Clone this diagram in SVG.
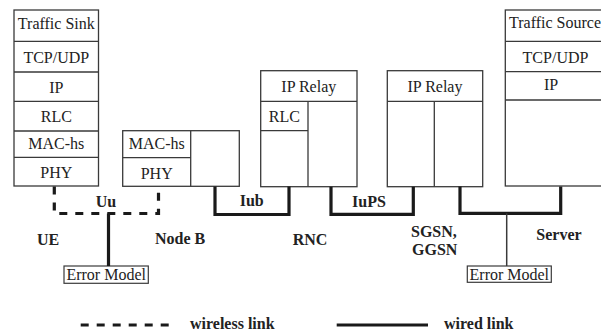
<svg xmlns="http://www.w3.org/2000/svg" width="601" height="334" viewBox="0 0 601 334" font-family="Liberation Serif">
<style>
.box{fill:#fff;stroke:#3a3a3a;stroke-width:1.3}
.ln{stroke:#3a3a3a;stroke-width:1.3;fill:none}
.t{font-size:16px;fill:#222;text-anchor:middle}
.b{font-size:16px;font-weight:bold;fill:#222}
.wired{stroke:#1a1a1a;stroke-width:3.2;fill:none}
.wireless{stroke:#1a1a1a;stroke-width:3.2;fill:none;stroke-dasharray:8 8}
.em{fill:#fff;stroke:#3a3a3a;stroke-width:1.2}
</style>
<rect width="601" height="334" fill="#fff"/>
<g id="ue">
<rect class="box" x="14" y="10" width="84.5" height="176"/>
<path class="ln" d="M14 41.3H98.5M14 72H98.5M14 101.3H98.5M14 131H98.5M14 157.3H98.5"/>
<text class="t" x="56.3" y="28.5">Traffic Sink</text>
<text class="t" x="56.3" y="63">TCP/UDP</text>
<text class="t" x="56.3" y="92.5">IP</text>
<text class="t" x="56.3" y="121.7">RLC</text>
<text class="t" x="56.3" y="149.3">MAC-hs</text>
<text class="t" x="56.3" y="178.3">PHY</text>
<text class="b" x="37" y="245">UE</text>
</g>
<g id="nodeb">
<rect class="box" x="122.7" y="130.7" width="116.6" height="55.6"/>
<path class="ln" d="M122.7 157.7H190.7M190.7 130.7V186.3"/>
<text class="t" x="156.7" y="149.3">MAC-hs</text>
<text class="t" x="156.7" y="179">PHY</text>
<text class="b" x="155" y="244">Node B</text>
</g>
<g id="rnc">
<rect class="box" x="260.7" y="70.7" width="96.3" height="116"/>
<path class="ln" d="M260.7 101.3H357M308 101.3V186.7M260.7 130.7H308"/>
<text class="t" x="308.8" y="91.7">IP Relay</text>
<text class="t" x="284.3" y="121.7">RLC</text>
<text class="b" x="310" y="245" text-anchor="middle">RNC</text>
</g>
<g id="sgsn">
<rect class="box" x="387.3" y="70.7" width="95.4" height="116"/>
<path class="ln" d="M387.3 101.3H482.7M434.3 101.3V186.7"/>
<text class="t" x="435" y="91.7">IP Relay</text>
<text class="b" x="411" y="237">SGSN,</text>
<text class="b" x="412" y="255">GGSN</text>
</g>
<g id="server">
<rect class="box" x="505.3" y="10" width="100" height="176"/>
<path class="ln" d="M505.3 41.3H606M505.3 71.7H606M505.3 100H606"/>
<text class="t" x="555" y="28.3">Traffic Source</text>
<text class="t" x="555.5" y="63.3">TCP/UDP</text>
<text class="t" x="551" y="90">IP</text>
<text class="b" x="559" y="240" text-anchor="middle">Server</text>
</g>
<g id="error-model-1">
<rect class="em" x="64" y="266" width="84.3" height="17.3"/>
<text class="t" x="106.2" y="280">Error Model</text>
</g>
<g id="error-model-2">
<rect class="em" x="467.3" y="266" width="84" height="16.3"/>
<text class="t" x="509.3" y="279.5">Error Model</text>
</g>
<g id="connectors">
<path class="wireless" d="M54.3 186.5V213.5H158.5V186.5"/>
<path class="wired" d="M108.5 213.5V266"/>
<path class="wired" d="M215 186.5V214.5H289V186.5"/>
<path class="wired" d="M331 186.7V214.3H413.3V186.7"/>
<path class="wired" d="M460 186.5V213.3H560.7V186.5"/>
<path d="M506.7 213.3V266" stroke="#3a3a3a" stroke-width="1.5"/>
<text class="b" x="106" y="206.5" text-anchor="middle">Uu</text>
<text class="b" x="251.7" y="205.5" text-anchor="middle">Iub</text>
<text class="b" x="369" y="206.5" text-anchor="middle">IuPS</text>
</g>
<g id="legend">
<path class="wireless" d="M80.7 325H172"/>
<text class="b" x="190" y="329">wireless link</text>
<path class="wired" d="M336.7 325H428"/>
<text class="b" x="444" y="329">wired link</text>
</g>
</svg>
